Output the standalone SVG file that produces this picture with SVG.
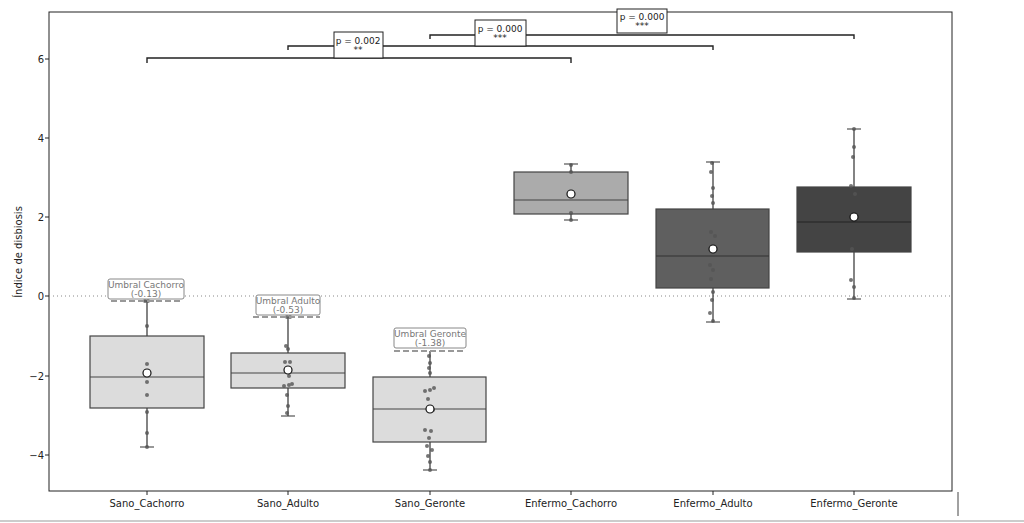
<svg xmlns="http://www.w3.org/2000/svg" width="1024" height="523" viewBox="0 0 1024 523">
<style>
text{font-family:"DejaVu Sans",sans-serif;fill:#222}
.tk{font-size:10px}
.bx{stroke:#444;stroke-width:1.2}
.wh{stroke:#333;stroke-width:1.2;fill:none}
.pt{fill:#555;opacity:.8}
.mn{fill:#fff;stroke:#111;stroke-width:1.2}
.ul{fill:#fff;stroke:#888;stroke-width:1}
.ut{font-size:9px;fill:#777;text-anchor:middle}
.th{stroke:#999;stroke-width:2;stroke-dasharray:6,3}
.br{stroke:#222;stroke-width:1.4;fill:none}
.pb{fill:#fff;stroke:#222;stroke-width:1}
.pl{font-size:9px;text-anchor:middle}
</style>
<rect width="1024" height="523" fill="#fff"/>
<rect x="49" y="12" width="903" height="479" fill="none" stroke="#222"/>
<line x1="958" y1="492" x2="958" y2="516" stroke="#444"/>
<line x1="0" y1="521" x2="1024" y2="521" stroke="#ccc" stroke-width="2"/>
<line x1="49" y1="296" x2="952" y2="296" stroke="#888" stroke-dasharray="1,3"/>
<g class="tk" text-anchor="end">
<text x="44" y="63">6</text><text x="44" y="142">4</text><text x="44" y="221">2</text><text x="44" y="300">0</text><text x="44" y="380">−2</text><text x="44" y="459">−4</text>
</g>
<g stroke="#222"><line x1="45" y1="59" x2="49" y2="59"/><line x1="45" y1="138" x2="49" y2="138"/><line x1="45" y1="217" x2="49" y2="217"/><line x1="45" y1="296" x2="49" y2="296"/><line x1="45" y1="376" x2="49" y2="376"/><line x1="45" y1="455" x2="49" y2="455"/>
<line x1="147" y1="491" x2="147" y2="495"/><line x1="288" y1="491" x2="288" y2="495"/><line x1="430" y1="491" x2="430" y2="495"/><line x1="571" y1="491" x2="571" y2="495"/><line x1="713" y1="491" x2="713" y2="495"/><line x1="854" y1="491" x2="854" y2="495"/></g>
<text class="tk" transform="translate(22,252) rotate(-90)" text-anchor="middle">Índice de disbiosis</text>
<g class="tk" text-anchor="middle">
<text x="147" y="507">Sano_Cachorro</text><text x="288" y="507">Sano_Adulto</text><text x="430" y="507">Sano_Geronte</text><text x="571" y="507">Enfermo_Cachorro</text><text x="713" y="507">Enfermo_Adulto</text><text x="854" y="507">Enfermo_Geronte</text>
</g>
<g id="sano_cachorro">
<path class="wh" d="M147 301V336M147 408V447M140 447H154M140 301H154"/>
<rect class="bx" x="90" y="336" width="114" height="72" fill="#dcdcdc"/>
<line class="bx" x1="90" y1="377" x2="204" y2="377"/>
<g class="pt"><circle cx="145" cy="301" r="2"/><circle cx="148" cy="301" r="2"/><circle cx="147" cy="326" r="2"/><circle cx="147" cy="364" r="2"/><circle cx="147" cy="382" r="2"/><circle cx="147" cy="395" r="2"/><circle cx="147" cy="412" r="2"/><circle cx="147" cy="433" r="2"/><circle cx="147" cy="447" r="2"/></g>
<circle class="mn" cx="147" cy="373" r="4"/>
</g>
<g id="sano_adulto">
<path class="wh" d="M288 317V353M288 388V416M281 416H295"/>
<rect class="bx" x="231" y="353" width="114" height="35" fill="#dcdcdc"/>
<line class="bx" x1="231" y1="373" x2="345" y2="373"/>
<g class="pt"><circle cx="287" cy="317" r="2"/><circle cx="290" cy="317" r="2"/><circle cx="286" cy="346" r="2"/><circle cx="288" cy="349" r="2"/><circle cx="285" cy="362" r="2"/><circle cx="290" cy="362" r="2"/><circle cx="289" cy="376" r="2"/><circle cx="284" cy="386" r="2"/><circle cx="289" cy="385" r="2"/><circle cx="292" cy="384" r="2"/><circle cx="287" cy="395" r="2"/><circle cx="288" cy="406" r="2"/><circle cx="287" cy="413" r="2"/></g>
<circle class="mn" cx="288" cy="370" r="4"/>
</g>
<g id="sano_geronte">
<path class="wh" d="M430 351V377M430 442V470M423 470H437"/>
<rect class="bx" x="373" y="377" width="113" height="65" fill="#dcdcdc"/>
<line class="bx" x1="373" y1="409" x2="486" y2="409"/>
<g class="pt"><circle cx="429" cy="356" r="2"/><circle cx="430" cy="363" r="2"/><circle cx="429" cy="368" r="2"/><circle cx="430" cy="373" r="2"/><circle cx="425" cy="391" r="2"/><circle cx="430" cy="390" r="2"/><circle cx="434" cy="388" r="2"/><circle cx="428" cy="399" r="2"/><circle cx="433" cy="410" r="2"/><circle cx="425" cy="430" r="2"/><circle cx="431" cy="431" r="2"/><circle cx="429" cy="438" r="2"/><circle cx="427" cy="446" r="2"/><circle cx="432" cy="450" r="2"/><circle cx="428" cy="456" r="2"/><circle cx="430" cy="462" r="2"/><circle cx="430" cy="470" r="2"/></g>
<circle class="mn" cx="430" cy="409" r="4"/>
</g>
<g id="enfermo_cachorro">
<path class="wh" d="M571 164V172M571 214V220M564 220H578M564 164H578"/>
<rect class="bx" x="514" y="172" width="114" height="42" fill="#ababab"/>
<line class="bx" x1="514" y1="200" x2="628" y2="200"/>
<g class="pt"><circle cx="571" cy="165" r="2"/><circle cx="571" cy="172" r="2"/><circle cx="571" cy="213" r="2"/><circle cx="571" cy="220" r="2"/></g>
<circle class="mn" cx="571" cy="194" r="4"/>
</g>
<g id="enfermo_adulto">
<path class="wh" d="M713 162V209M713 288V322M706 322H720M706 162H720"/>
<rect class="bx" x="656" y="209" width="113" height="79" fill="#5f5f5f"/>
<line x1="656" y1="256" x2="769" y2="256" stroke="#333"/>
<g class="pt"><circle cx="712" cy="163" r="2"/><circle cx="711" cy="172" r="2"/><circle cx="713" cy="188" r="2"/><circle cx="712" cy="196" r="2"/><circle cx="713" cy="203" r="2"/><circle cx="711" cy="232" r="2"/><circle cx="715" cy="236" r="2"/><circle cx="710" cy="265" r="2"/><circle cx="713" cy="270" r="2"/><circle cx="711" cy="279" r="2"/><circle cx="713" cy="292" r="2"/><circle cx="712" cy="300" r="2"/><circle cx="710" cy="313" r="2"/><circle cx="713" cy="321" r="2"/></g>
<circle class="mn" cx="713" cy="249" r="4"/>
</g>
<g id="enfermo_geronte">
<path class="wh" d="M854 129V187M854 252V299M847 299H861M847 129H861"/>
<rect class="bx" x="797" y="187" width="114" height="65" fill="#444"/>
<line x1="797" y1="222" x2="911" y2="222" stroke="#222"/>
<g class="pt"><circle cx="854" cy="129" r="2"/><circle cx="854" cy="147" r="2"/><circle cx="853" cy="157" r="2"/><circle cx="851" cy="186" r="2"/><circle cx="855" cy="194" r="2"/><circle cx="852" cy="249" r="2"/><circle cx="851" cy="280" r="2"/><circle cx="854" cy="287" r="2"/><circle cx="854" cy="298" r="2"/></g>
<circle class="mn" cx="854" cy="217" r="4"/>
</g>
<g id="umbrales">
<line class="th" x1="111" y1="301" x2="182" y2="301"/>
<rect class="ul" x="108" y="279" width="76" height="20" rx="2"/>
<text class="ut" x="146" y="288">Umbral Cachorro</text><text class="ut" x="146" y="297">(-0.13)</text>
<line class="th" x1="253" y1="317" x2="320" y2="317"/>
<rect class="ul" x="256" y="295" width="64" height="20" rx="2"/>
<text class="ut" x="288" y="304">Umbral Adulto</text><text class="ut" x="288" y="313">(-0.53)</text>
<line class="th" x1="394" y1="351" x2="464" y2="351"/>
<rect class="ul" x="394" y="328" width="72" height="20" rx="2"/>
<text class="ut" x="430" y="337">Umbral Geronte</text><text class="ut" x="430" y="346">(-1.38)</text>
</g>
<g id="connectors">
<path class="br" d="M147 63V58H571V63"/>
<path class="br" d="M288 50V46H713V50" stroke="#334"/>
<path class="br" d="M430 39V35H854V39"/>
</g>
<g id="pvals">
<rect class="pb" x="334" y="32" width="49" height="26"/><text class="pl" x="358" y="44">p = 0.002</text><text class="pl" x="358" y="53">**</text>
<rect class="pb" x="475" y="20" width="51" height="26"/><text class="pl" x="500" y="32">p = 0.000</text><text class="pl" x="500" y="41">***</text>
<rect class="pb" x="617" y="9" width="50" height="24"/><text class="pl" x="642" y="20">p = 0.000</text><text class="pl" x="642" y="29">***</text>
</g>
</svg>
